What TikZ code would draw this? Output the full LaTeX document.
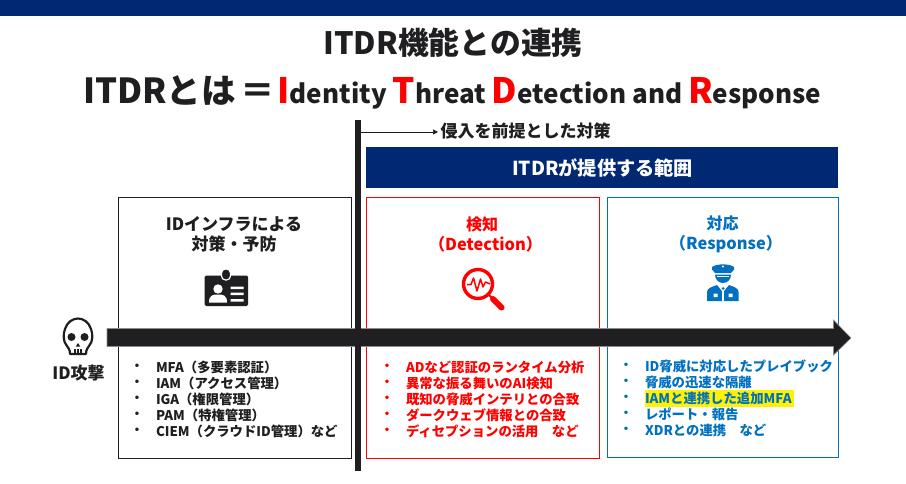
\documentclass[tikz,border=0pt]{standalone}
\usepackage{fontspec}
\setmainfont{Noto Sans CJK JP}
\usetikzlibrary{arrows.meta}
\definecolor{navy}{HTML}{002873}
\definecolor{ink}{HTML}{1F1E21}
\definecolor{rd}{HTML}{FF0000}
\definecolor{bl}{HTML}{0070C0}
\newcommand{\fz}[1]{\fontsize{#1}{#1}\selectfont}
\newcommand{\R}[1]{{\color{rd}\fz{35}#1}}
\tikzset{
  x=1pt,y=-1pt,
  txt/.style={inner sep=0pt,outer sep=0pt,font=\bfseries,text=ink},
  head/.style={txt,align=center,font=\fz{16}\bfseries,execute at begin node={\baselineskip=20pt}},
  lst/.style={txt,anchor=west,font=\fz{13.35}\bfseries},
  dot/.style={txt,font=\fz{12.4}\bfseries},
  col/.style={draw,fill=white,line width=0.9pt},
}
\begin{document}
\begin{tikzpicture}
\useasboundingbox (0,0) rectangle (906,484);
\fill[navy] (0,0) rectangle (906,16);
\node[txt,font=\fz{30.8}\bfseries] (title) at (453,43) {ITDR機能との連携};
\node[txt,anchor=base west,font=\fz{34.5}\bfseries] (sub) at (83,104) {ITDRとは \hspace{-3pt}＝\hspace{2.5pt}{\fz{26}\R{I}dentity \R{T}hreat \R{D}etection and \R{R}esponse}};
% columns
\draw[col,draw=ink] (118.5,197.5) rectangle (351.5,458.5);
\draw[col,draw=rd] (366.5,197.5) rectangle (599.5,458.5);
\draw[col,draw=bl] (607.5,197.5) rectangle (838.5,457.5);
\fill[navy] (366,147) rectangle (838,188);
\node[txt,text=white,font=\fz{19.2}\bfseries] (range) at (602.5,168) {ITDRが提供する範囲};
% headings
\node[head,font=\fz{17}\bfseries] (h1) at (234,234.5) {IDインフラによる\\対策・予防};
\node[head,text=rd] (h2) at (482,234.5) {検知\\\hspace*{7pt}{\fz{16.4}（Detection）}};
\node[head,text=bl] (h3) at (722.5,234.5) {対応\\\hspace*{7pt}{\fz{16.4}（Response）}};
% big arrow
\coordinate (arrowstart) at (107,338);
\coordinate (arrowend) at (851,338);
\fill[ink,draw=black!45,line width=0.6pt] (107,328.5) -- (833.5,328.5) -- (833.5,320) -- (851,338) -- (833.5,355) -- (833.5,346.5) -- (107,346.5) -- cycle;
% vertical bar
\fill[ink] (355,120) rectangle (361,471);
\coordinate (barpt) at (361,132);
\node[txt,anchor=west,font=\fz{17}\bfseries] (pre) at (440.5,131) {侵入を前提とした対策};
\coordinate (pretip) at (438,132);
\draw[ink,line width=0.7pt,-{Triangle[length=5pt,width=5pt]}] (barpt) -- (pretip);
% lists
\foreach \t [count=\i] in {MFA（多要素認証）,IAM（アクセス管理）,IGA（権限管理）,PAM（特権管理）,CIEM（クラウドID管理）など}{
  \node[dot] (a\i) at (137,351+16*\i) {・};
  \node[lst] (at\i) at (156,351+16*\i) {\t};
}
\foreach \t [count=\i] in {ADなど認証のランタイム分析,異常な振る舞いのAI検知,既知の脅威インテリとの合致,ダークウェブ情報との合致,ディセプションの活用　など}{
  \node[dot,text=rd] (b\i) at (387,351+16*\i) {・};
  \node[lst,text=rd] (bt\i) at (406,351+16*\i) {\t};
}
\fill[yellow] (645,390) rectangle (794,407);
\foreach \t [count=\i] in {ID脅威に対応したプレイブック,脅威の迅速な隔離,IAMと連携した追加MFA,レポート・報告,XDRとの連携　など}{
  \node[dot,text=bl] (c\i) at (626,350+16*\i) {・};
  \node[lst,text=bl] (ct\i) at (645,350+16*\i) {\t};
}
% ID attack
\node[txt,font=\fz{17}\bfseries] (idatk) at (78.5,373) {ID攻撃};
% skull
\begin{scope}
\draw[ink,line width=2.2pt,fill=white,line join=round]
  (70,354) .. controls (70,349) and (68,348) .. (67,346)
  .. controls (63,342) and (63,334) .. (65,329)
  .. controls (67,322) and (73,318.5) .. (78,318.5)
  .. controls (83,318.5) and (89,322) .. (91,329)
  .. controls (93,334) and (93,342) .. (89,346)
  .. controls (88,348) and (86,349) .. (86,354) -- cycle;
\fill[ink] (71.5,337) circle (4);
\fill[ink] (84.5,337) circle (4);
\fill[ink] (78,343) -- (75.8,346.5) -- (80.2,346.5) -- cycle;
\draw[ink,line width=1.2pt] (75,349) -- (75,354) (78,349) -- (78,354) (81,349) -- (81,354);
\end{scope}
% badge icon
\fill[ink,rounded corners=1.5pt] (204.5,275.5) rectangle (248,306);
\draw[white,fill=ink,line width=1.2pt,rounded corners=4pt] (221.5,269) rectangle (230.5,280);
\fill[ink,rounded corners=2pt] (223,270.5) rectangle (229,278);
\fill[white] (218,289) circle (4.7);
\fill[white] (209,302.5) .. controls (209,295) and (213,294.5) .. (218,294.5) .. controls (223,294.5) and (227,295) .. (227,302.5) -- cycle;
\fill[white] (230.5,286.5) rectangle (243.5,289) (230.5,292.5) rectangle (243.5,295) (230.5,299) rectangle (243.5,301.5);
% magnifier icon
\draw[rd,line width=3.4pt,line join=round] (478,284) circle (14.5);
\draw[rd,line width=1.5pt,line join=round] (467,284.5) -- (471,284.5) -- (473.5,278) -- (477,291) -- (480.5,279) -- (483,287) -- (485.5,282) -- (490,284);
\draw[rd,line width=2pt] (488.5,294.5) -- (492,298);
\draw[rd,line width=6pt,line cap=round] (493,299) -- (501.5,307.5);
% officer icon
\fill[bl] (712,267) .. controls (716,263.5) and (730,263.5) .. (734,267) -- (734,269.5) .. controls (733,271) and (732,272) .. (731,273) -- (715,273) .. controls (714,272) and (713,271) .. (712,269.5) -- cycle;
\fill[white] (723,266.5) circle (1.2);
\fill[bl] (715,274.5) -- (731,274.5) .. controls (731,279) and (728,283) .. (723,283) .. controls (718,283) and (715,279) .. (715,274.5) -- cycle;
\fill[white] (717,275.5) rectangle (729,277);
\fill[bl] (707,301) -- (707,292) .. controls (707,288) and (712,287) .. (717,285) -- (721.8,291) -- (721.8,301) -- cycle;
\fill[bl] (738.5,301) -- (738.5,292) .. controls (738.5,288) and (734,287) .. (729,285) -- (724.2,291) -- (724.2,301) -- cycle;
\fill[bl] (723,287) -- (721.5,288.5) -- (723,290) -- (724.5,288.5) -- cycle;
\fill[white] (713.5,293.5) rectangle (717.5,297) (728.5,293.5) rectangle (732.5,297);
\end{tikzpicture}
\end{document}
